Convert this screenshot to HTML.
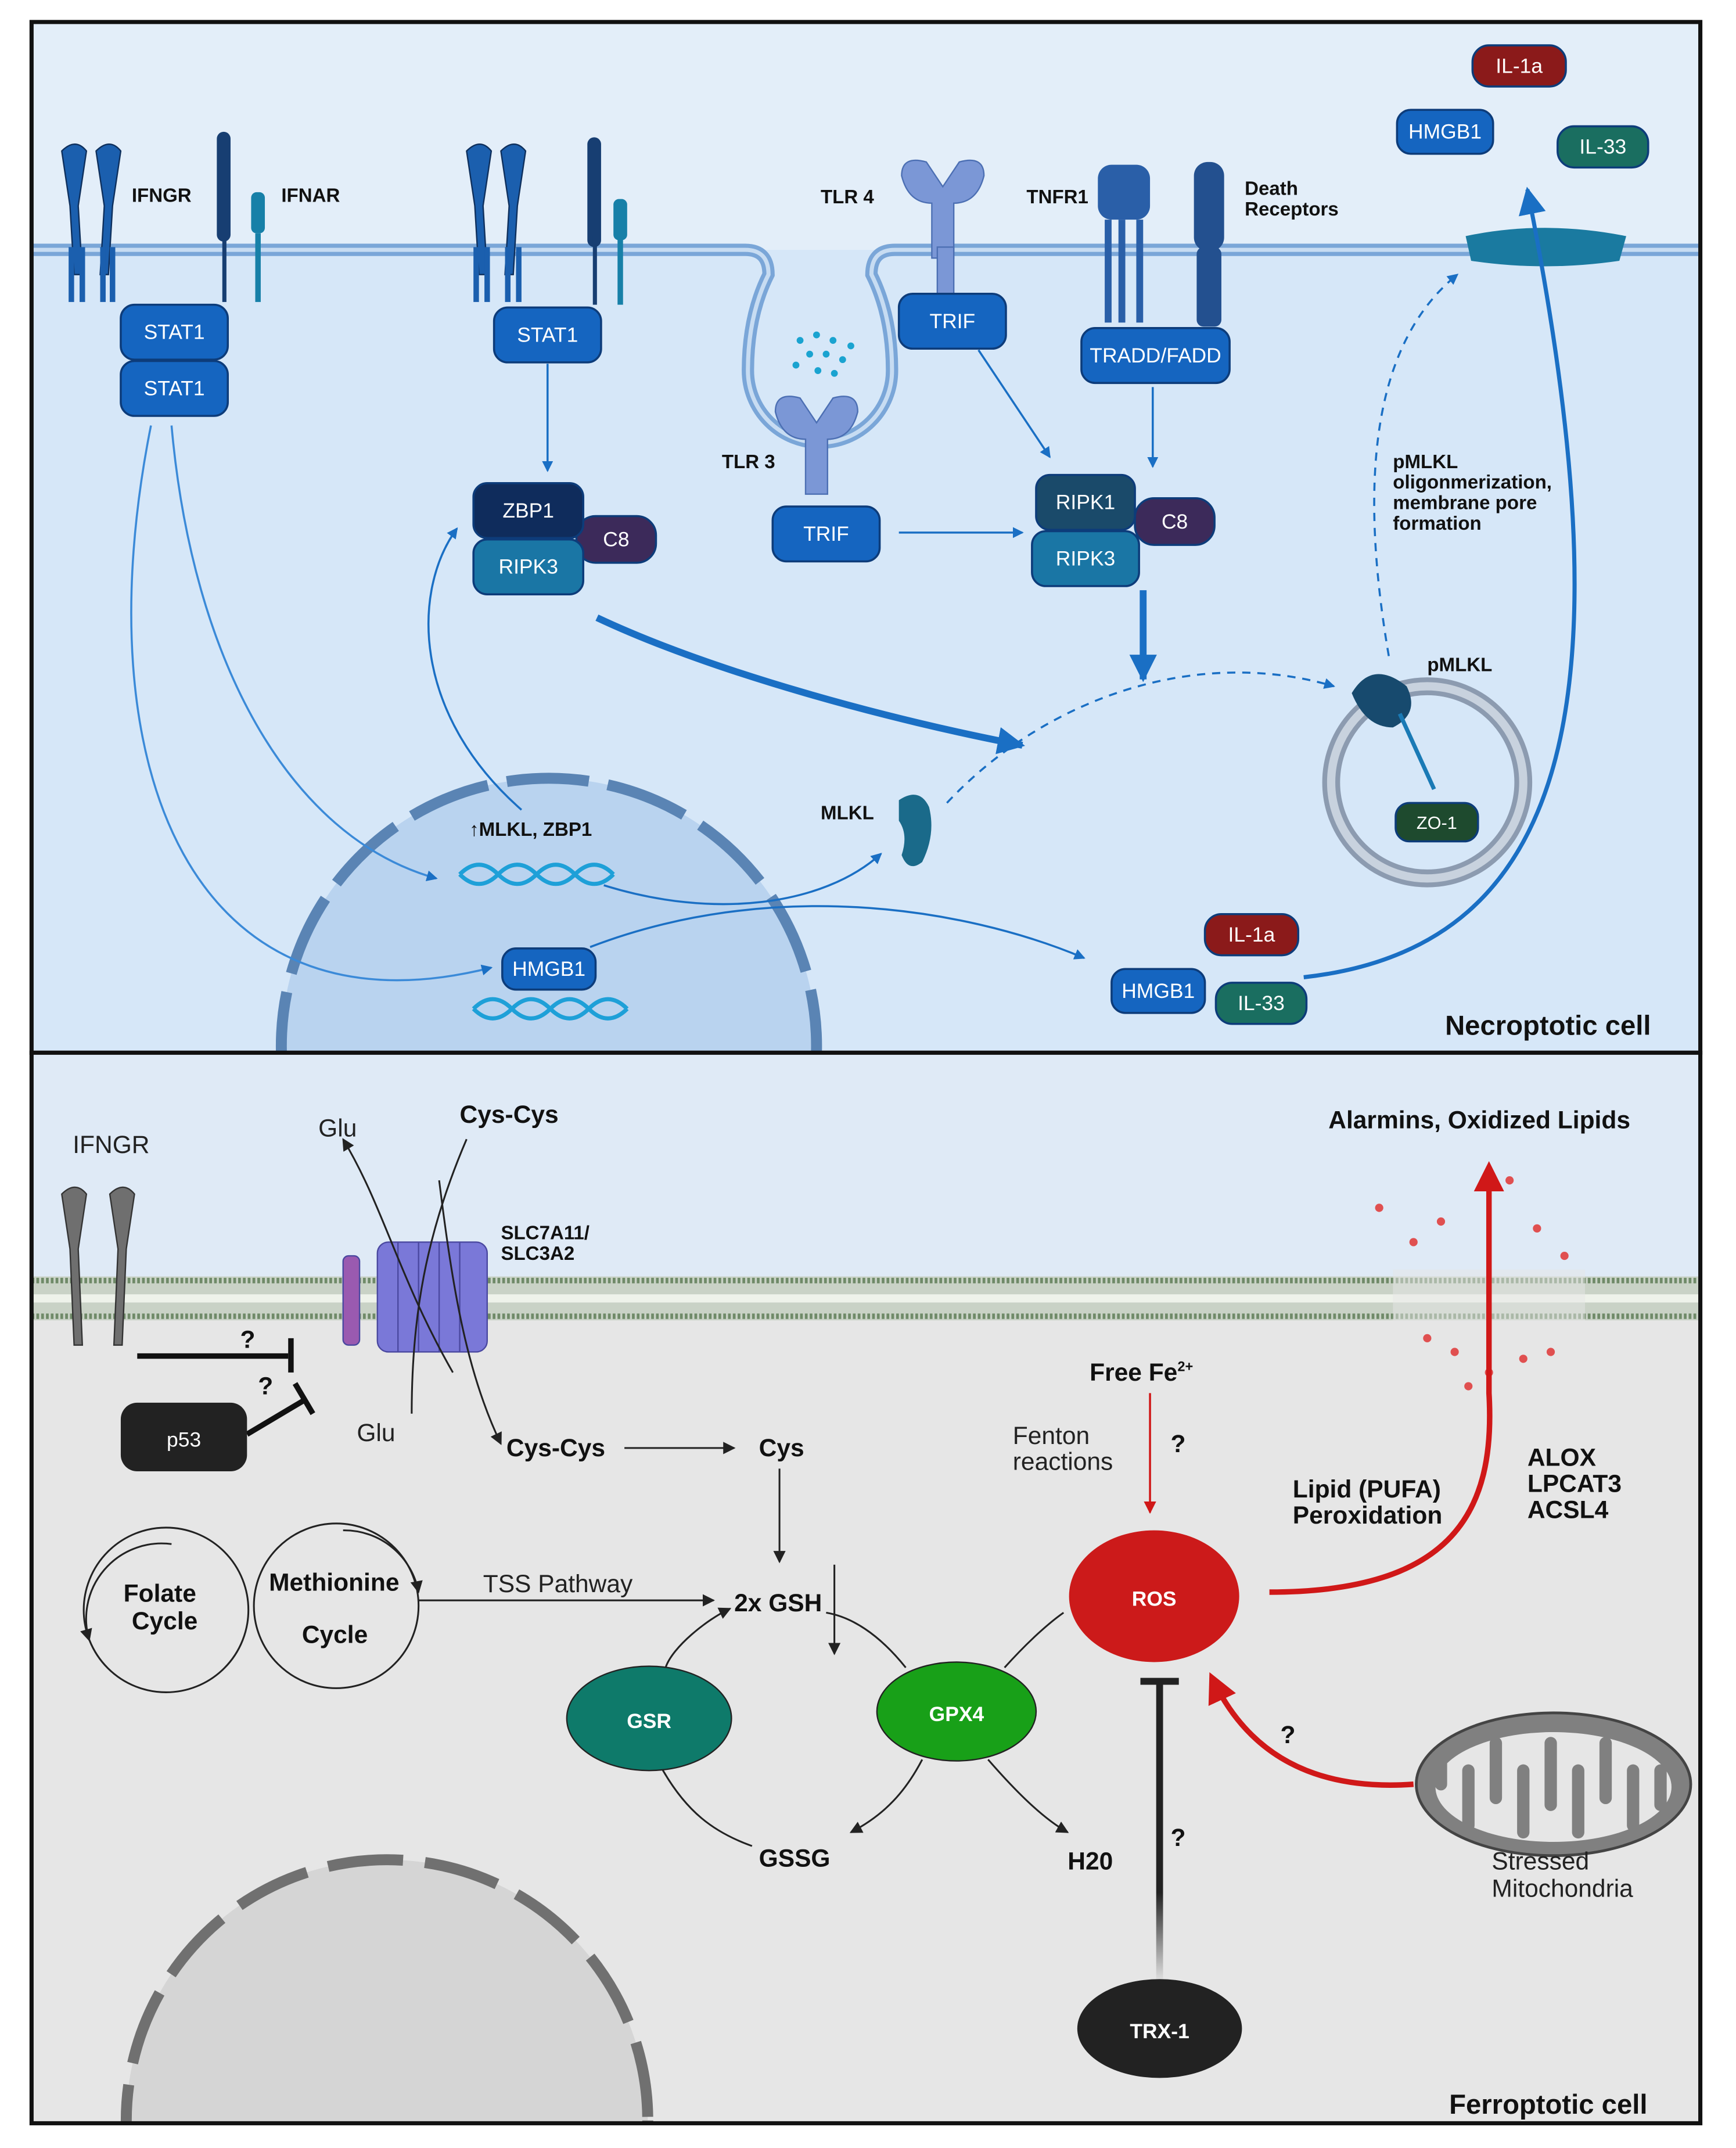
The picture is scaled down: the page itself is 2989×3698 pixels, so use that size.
<!DOCTYPE html>
<html><head><meta charset="utf-8"><style>
html,body{margin:0;padding:0;background:#fff;width:2989px;height:3698px;overflow:hidden}
svg{display:block}
text{font-family:"Liberation Sans",sans-serif}
.w{fill:#fff;font-size:15px;text-anchor:middle}
.b{font-weight:bold;fill:#111}
</style></head><body>
<svg width="2989" height="3698" viewBox="0 0 1265 1565" xmlns="http://www.w3.org/2000/svg">
<defs>
<marker id="ab" markerWidth="8" markerHeight="8" refX="7" refY="4" orient="auto" markerUnits="userSpaceOnUse"><path d="M0,0L8,4L0,8z" fill="#1a6fc4"/></marker>
<marker id="abl" markerWidth="20" markerHeight="20" refX="18" refY="10" orient="auto" markerUnits="userSpaceOnUse"><path d="M0,0L20,10L0,20z" fill="#1a6fc4"/></marker>
<marker id="ak" markerWidth="9" markerHeight="9" refX="8" refY="4.5" orient="auto" markerUnits="userSpaceOnUse"><path d="M0,0L9,4.5L0,9z" fill="#222"/></marker>
<marker id="ar" markerWidth="9" markerHeight="9" refX="8" refY="4.5" orient="auto" markerUnits="userSpaceOnUse"><path d="M0,0L9,4.5L0,9z" fill="#d01818"/></marker>
<marker id="arl" markerWidth="22" markerHeight="22" refX="18" refY="11" orient="auto" markerUnits="userSpaceOnUse"><path d="M0,0L22,11L0,22z" fill="#d01818"/></marker>
<linearGradient id="trx" gradientUnits="userSpaceOnUse" x1="0" y1="1445" x2="0" y2="1225"><stop offset="0" stop-color="#e6e6e6"/><stop offset="0.3" stop-color="#222"/><stop offset="1" stop-color="#222"/></linearGradient>
</defs>
<rect width="1265" height="1565" fill="#fff"/>
<!-- TOP PANEL -->
<rect x="23" y="16" width="1216" height="751" fill="#d6e7f8"/>
<rect x="23" y="16" width="1216" height="166" fill="#e3eef9"/>
<path d="M23,182 H543 Q560,182 560,200 Q545,230 545,270 A52,52 0 0 0 650,270 Q650,230 635,200 Q635,182 652,182 H1239" fill="none" stroke="#7aa6d8" stroke-width="9"/>
<path d="M23,182 H543 Q560,182 560,200 Q545,230 545,270 A52,52 0 0 0 650,270 Q650,230 635,200 Q635,182 652,182 H1239" fill="none" stroke="#c7dcf2" stroke-width="3"/>
<clipPath id="c1"><rect x="23" y="16" width="1216" height="751"/></clipPath>
<g clip-path="url(#c1)">
<circle cx="400" cy="762" r="195" fill="#b9d3ef"/>
<circle cx="400" cy="762" r="195" fill="none" stroke="#5a84b4" stroke-width="8" stroke-dasharray="60,14"/>
</g>
<g fill="#1b5fae" stroke="#0e2f5c" stroke-width="1">
<path d="M45,110 q10,-10 18,0 l-6,40 l3,50 h-6 l-3,-50z"/><path d="M70,110 q10,-10 18,0 l-6,40 l-3,50 h-6 l3,-50z"/>
<path d="M340,110 q10,-10 18,0 l-6,40 l3,50 h-6 l-3,-50z"/><path d="M365,110 q10,-10 18,0 l-6,40 l-3,50 h-6 l3,-50z"/>
</g>
<g fill="#173e72"><rect x="158" y="96" width="10" height="80" rx="5"/><rect x="428" y="100" width="10" height="80" rx="5"/></g>
<rect x="162" y="170" width="3" height="50" fill="#173e72"/><rect x="432" y="172" width="3" height="50" fill="#173e72"/>
<g fill="#1780a8"><rect x="183" y="140" width="10" height="30" rx="4"/><rect x="186" y="170" width="4" height="50"/><rect x="447" y="145" width="10" height="30" rx="4"/><rect x="450" y="172" width="4" height="50"/></g>
<g fill="#1b5fae"><rect x="50" y="180" width="4" height="40"/><rect x="58" y="180" width="4" height="40"/><rect x="73" y="180" width="4" height="40"/><rect x="80" y="180" width="4" height="40"/><rect x="345" y="180" width="4" height="40"/><rect x="353" y="180" width="4" height="40"/><rect x="368" y="180" width="4" height="40"/><rect x="376" y="180" width="4" height="40"/></g>
<g fill="#7b97d6" stroke="#4c6fb3"><path d="M657,128 q0,-15 18,-10 l12,18 l12,-18 q18,-5 18,10 q-5,20 -22,20 l0,40 h-16 l0,-40 q-17,0 -22,-20z"/><rect x="683" y="180" width="12" height="35"/></g>
<g fill="#7b97d6" stroke="#4c6fb3"><path d="M565,300 q0,-15 18,-10 l12,18 l12,-18 q18,-5 18,10 q-5,20 -22,20 l0,40 h-16 l0,-40 q-17,0 -22,-20z"/></g>
<g fill="#1aa3d0"><circle cx="583" cy="248" r="2.5"/><circle cx="595" cy="244" r="2.5"/><circle cx="607" cy="248" r="2.5"/><circle cx="590" cy="258" r="2.5"/><circle cx="602" cy="258" r="2.5"/><circle cx="614" cy="262" r="2.5"/><circle cx="580" cy="266" r="2.5"/><circle cx="596" cy="270" r="2.5"/><circle cx="608" cy="272" r="2.5"/><circle cx="620" cy="252" r="2.5"/></g>
<g fill="#2a5fa8"><rect x="800" y="120" width="38" height="40" rx="10"/><rect x="805" y="160" width="5" height="75"/><rect x="815" y="160" width="5" height="75"/><rect x="828" y="160" width="5" height="75"/><rect x="870" y="118" width="22" height="65" rx="10" fill="#23508f"/><rect x="872" y="180" width="18" height="58" rx="5" fill="#23508f"/></g>
<path d="M1068,172 Q1125,160 1185,172 L1180,190 Q1125,198 1072,190z" fill="#1a7aa0"/>
<g fill="none" stroke="#1a6fc4" stroke-width="1.5">
<path d="M399,265 V343" marker-end="url(#ab)"/>
<path d="M713,255 L765,333" marker-end="url(#ab)"/>
<path d="M840,282 V340" marker-end="url(#ab)"/>
<path d="M655,388 H745" marker-end="url(#ab)"/>
<path d="M125,310 C140,480 210,610 318,640" marker-end="url(#ab)" stroke="#3b8ad8"/>
<path d="M110,310 C60,560 140,760 358,705" marker-end="url(#ab)" stroke="#3b8ad8"/>
<path d="M380,590 C300,520 300,430 333,385" marker-end="url(#ab)"/>
<path d="M440,645 C520,670 600,660 642,622" marker-end="url(#ab)"/>
<path d="M430,690 C560,640 700,660 790,698" marker-end="url(#ab)"/>
<path d="M690,585 C760,510 870,470 972,500" stroke-dasharray="6,5" marker-end="url(#ab)"/>
<path d="M1012,478 C990,350 1000,250 1062,200" stroke-dasharray="6,5" marker-end="url(#ab)"/>
<path d="M950,712 C1150,690 1185,500 1113,138" stroke-width="3" marker-end="url(#abl)"/>
<path d="M435,450 C520,490 650,525 745,543" stroke-width="5" marker-end="url(#abl)"/>
<path d="M833,430 V495" stroke-width="5" marker-end="url(#abl)"/>
</g>
<circle cx="1040" cy="570" r="70" fill="none" stroke="#8c9bb0" stroke-width="13"/>
<circle cx="1040" cy="570" r="70" fill="none" stroke="#c8d2de" stroke-width="6"/>
<path d="M985,505 q15,-25 40,-5 q10,20 -10,30 q-20,0 -30,-25z" fill="#174a6e"/>
<path d="M1020,520 L1045,575" stroke="#1a7ab5" stroke-width="3"/>
<path d="M655,583 q15,-10 22,5 q5,20 -5,40 q-10,8 -15,-5 q5,-15 -2,-25z" fill="#1a6a8a"/>
<g fill="none" stroke="#1ea0d8" stroke-width="3"><path d="M335,637 q14,-14 28,0 t28,0 t28,0 t28,0"/><path d="M335,637 q14,14 28,0 t28,0 t28,0 t28,0"/><path d="M345,735 q14,-14 28,0 t28,0 t28,0 t28,0"/><path d="M345,735 q14,14 28,0 t28,0 t28,0 t28,0"/></g>
<g stroke="#0d3c7a" stroke-width="1.5">
<rect x="88" y="222" width="78" height="40" rx="10" fill="#1565c0"/>
<rect x="88" y="263" width="78" height="40" rx="10" fill="#1565c0"/>
<rect x="360" y="224" width="78" height="40" rx="10" fill="#1565c0"/>
<rect x="655" y="214" width="78" height="40" rx="10" fill="#1565c0"/>
<rect x="563" y="369" width="78" height="40" rx="10" fill="#1565c0"/>
<rect x="788" y="239" width="108" height="40" rx="10" fill="#1565c0"/>
<rect x="420" y="376" width="58" height="34" rx="14" fill="#3c2a5a"/>
<rect x="345" y="352" width="80" height="40" rx="10" fill="#0f2c5c"/>
<rect x="345" y="393" width="80" height="40" rx="10" fill="#1a76a5"/>
<rect x="827" y="363" width="58" height="34" rx="14" fill="#3c2a5a"/>
<rect x="755" y="346" width="72" height="40" rx="10" fill="#1a4a6a"/>
<rect x="752" y="387" width="78" height="40" rx="10" fill="#1a76a5"/>
<rect x="1073" y="33" width="68" height="30" rx="12" fill="#8b1a1a"/>
<rect x="1018" y="80" width="70" height="32" rx="10" fill="#1565c0"/>
<rect x="1135" y="92" width="66" height="30" rx="12" fill="#1a6e60"/>
<rect x="878" y="666" width="68" height="30" rx="12" fill="#8b1a1a"/>
<rect x="810" y="706" width="68" height="32" rx="10" fill="#1565c0"/>
<rect x="886" y="716" width="66" height="30" rx="12" fill="#1a6e60"/>
<rect x="366" y="691" width="68" height="30" rx="10" fill="#1565c0"/>
<rect x="1017" y="585" width="60" height="28" rx="10" fill="#1e4a2e"/>
</g>
<g class="w">
<text x="127" y="247">STAT1</text><text x="127" y="288">STAT1</text><text x="399" y="249">STAT1</text>
<text x="694" y="239">TRIF</text><text x="602" y="394">TRIF</text><text x="842" y="264">TRADD/FADD</text>
<text x="449" y="398">C8</text><text x="385" y="377">ZBP1</text><text x="385" y="418">RIPK3</text>
<text x="856" y="385">C8</text><text x="791" y="371">RIPK1</text><text x="791" y="412">RIPK3</text>
<text x="1107" y="53">IL-1a</text><text x="1053" y="101">HMGB1</text><text x="1168" y="112">IL-33</text>
<text x="912" y="686">IL-1a</text><text x="844" y="727">HMGB1</text><text x="919" y="736">IL-33</text>
<text x="400" y="711">HMGB1</text><text x="1047" y="604" font-size="13">ZO-1</text>
</g>
<g class="b" font-size="14">
<text x="96" y="147">IFNGR</text><text x="205" y="147">IFNAR</text><text x="598" y="148">TLR 4</text>
<text x="748" y="148">TNFR1</text><text x="907" y="142">Death</text><text x="907" y="157">Receptors</text>
<text x="526" y="341">TLR 3</text><text x="342" y="609">↑MLKL, ZBP1</text><text x="598" y="597">MLKL</text>
<text x="1040" y="489">pMLKL</text>
<text x="1015" y="341">pMLKL</text><text x="1015" y="356">oligonmerization,</text><text x="1015" y="371">membrane pore</text><text x="1015" y="386">formation</text>
<text x="1053" y="754" font-size="20">Necroptotic cell</text>
</g>
<rect x="23" y="16" width="1216" height="751" fill="none" stroke="#111" stroke-width="3"/>

<!-- BOTTOM PANEL -->
<rect x="23" y="767" width="1216" height="780" fill="#e6e6e6"/>
<rect x="23" y="767" width="1216" height="163" fill="#dfeaf6"/>
<rect x="23" y="930" width="1216" height="32" fill="#c9d2c6"/>
<g stroke="#6f8a68" stroke-width="1"><line x1="23" y1="933" x2="1239" y2="933" stroke-width="4" stroke-dasharray="2,1.5"/><line x1="23" y1="959" x2="1239" y2="959" stroke-width="4" stroke-dasharray="2,1.5"/><line x1="23" y1="946" x2="1239" y2="946" stroke="#eef2ea" stroke-width="6"/></g>
<clipPath id="c2"><rect x="23" y="767" width="1216" height="780"/></clipPath>
<g clip-path="url(#c2)">
<circle cx="282" cy="1545" r="190" fill="#d5d5d5"/>
<circle cx="282" cy="1545" r="190" fill="none" stroke="#707070" stroke-width="8" stroke-dasharray="55,16"/>
</g>
<rect x="1015" y="925" width="140" height="40" fill="#e6e6e6" opacity="0.5"/>
<g fill="#e05050"><circle cx="1005" cy="880" r="3"/><circle cx="1030" cy="905" r="3"/><circle cx="1050" cy="890" r="3"/><circle cx="1120" cy="895" r="3"/><circle cx="1140" cy="915" r="3"/><circle cx="1100" cy="860" r="3"/><circle cx="1060" cy="985" r="3"/><circle cx="1085" cy="1000" r="3"/><circle cx="1110" cy="990" r="3"/><circle cx="1040" cy="975" r="3"/><circle cx="1130" cy="985" r="3"/><circle cx="1070" cy="1010" r="3"/></g>
<g fill="#6f6f6f" stroke="#333"><path d="M45,870 q10,-10 18,0 l-6,40 l3,70 h-6 l-3,-70z"/><path d="M80,870 q10,-10 18,0 l-6,40 l-3,70 h-6 l3,-70z"/></g>
<g fill="#7a78d8" stroke="#4a48a0"><rect x="275" y="905" width="80" height="80" rx="8"/><rect x="250" y="915" width="12" height="65" rx="4" fill="#9a5ab0"/></g>
<g stroke="#4a48a0"><line x1="290" y1="905" x2="290" y2="985"/><line x1="305" y1="905" x2="305" y2="985"/><line x1="320" y1="905" x2="320" y2="985"/><line x1="335" y1="905" x2="335" y2="985"/></g>
<g stroke="#111" stroke-width="4" fill="none"><path d="M100,988 H210"/><path d="M212,975 V1000"/><path d="M180,1045 L222,1020"/><path d="M215,1008 L228,1030"/></g>
<rect x="88" y="1022" width="92" height="50" rx="12" fill="#222"/>
<text x="134" y="1054" class="w" font-size="19">p53</text>
<g fill="none" stroke="#222" stroke-width="1.3">
<path d="M330,1000 C290,930 280,880 250,830" marker-end="url(#ak)"/>
<path d="M340,830 C310,900 300,960 300,1030"/>
<path d="M320,860 C330,940 340,1000 365,1052" marker-end="url(#ak)"/>
<path d="M455,1055 H535" marker-end="url(#ak)"/>
<path d="M568,1070 V1138" marker-end="url(#ak)"/>
<path d="M608,1140 V1205" marker-end="url(#ak)"/>
<path d="M305,1166 H520" marker-end="url(#ak)"/>
<path d="M482,1288 C500,1320 520,1335 548,1345"/>
<path d="M485,1215 C490,1200 515,1180 532,1172" marker-end="url(#ak)"/>
<path d="M660,1215 C640,1190 620,1178 602,1175"/>
<path d="M732,1215 C750,1195 765,1182 775,1175"/>
<path d="M672,1282 C660,1305 645,1322 620,1335" marker-end="url(#ak)"/>
<path d="M720,1282 C740,1305 760,1325 778,1335" marker-end="url(#ak)"/>
<path d="M125,1125 A55,55 0 0 0 65,1195" marker-end="url(#ak)"/>
<path d="M250,1115 A55,55 0 0 1 305,1160" marker-end="url(#ak)"/>
<circle cx="121" cy="1173" r="60"/><circle cx="245" cy="1170" r="60"/>
</g>
<path d="M838,1015 V1102" stroke="#d01818" stroke-width="1.5" marker-end="url(#ar)"/>
<path d="M925,1160 C1060,1160 1090,1100 1085,1015 L1085,850" fill="none" stroke="#d01818" stroke-width="4" marker-end="url(#arl)"/>
<path d="M1030,1300 C960,1305 910,1280 883,1222" fill="none" stroke="#d01818" stroke-width="4" marker-end="url(#arl)"/>
<rect x="842.5" y="1225" width="5" height="220" fill="url(#trx)"/>
<path d="M831,1225 H859" stroke="#222" stroke-width="5"/>
<ellipse cx="1132" cy="1300" rx="100" ry="52" fill="#808080" stroke="#444" stroke-width="2"/>
<ellipse cx="1132" cy="1302" rx="86" ry="40" fill="#e6e6e6"/>
<path d="M1050,1300 v-20 M1070,1330 v-40 M1090,1270 v40 M1110,1335 v-45 M1130,1270 v45 M1150,1335 v-45 M1170,1270 v40 M1190,1330 v-40 M1210,1290 v25" stroke="#808080" stroke-width="9" stroke-linecap="round"/>
<ellipse cx="473" cy="1252" rx="60" ry="38" fill="#0e7a6a" stroke="#222"/>
<ellipse cx="697" cy="1247" rx="58" ry="36" fill="#18a018" stroke="#222"/>
<ellipse cx="841" cy="1163" rx="62" ry="48" fill="#cc1a1a"/>
<ellipse cx="845" cy="1478" rx="60" ry="36" fill="#222"/>
<g class="w" font-weight="bold" font-size="20"><text x="473" y="1259">GSR</text><text x="697" y="1254">GPX4</text><text x="841" y="1170">ROS</text><text x="845" y="1485">TRX-1</text></g>
<g font-size="18" fill="#222">
<text x="53" y="840">IFNGR</text><text x="232" y="828">Glu</text><text x="260" y="1050">Glu</text>
<text x="352" y="1160">TSS  Pathway</text>
<text x="738" y="1052">Fenton</text><text x="738" y="1071">reactions</text>
<text x="1087" y="1362">Stressed</text><text x="1087" y="1382">Mitochondria</text>
</g>
<g class="b" font-size="18">
<text x="335" y="818">Cys-Cys</text><text x="369" y="1061">Cys-Cys</text><text x="553" y="1061">Cys</text>
<text x="535" y="1174">2x GSH</text><text x="553" y="1360">GSSG</text><text x="778" y="1362">H20</text>
<text x="90" y="1167">Folate</text><text x="96" y="1187">Cycle</text>
<text x="196" y="1159">Methionine</text><text x="220" y="1197">Cycle</text>
<text x="794" y="1006">Free Fe<tspan font-size="10" dy="-7">2+</tspan></text>
<text x="853" y="1058">?</text><text x="175" y="982">?</text><text x="188" y="1016">?</text><text x="933" y="1270">?</text><text x="853" y="1345">?</text>
<text x="942" y="1091">Lipid (PUFA)</text><text x="942" y="1110">Peroxidation</text>
<text x="1113" y="1068">ALOX</text><text x="1113" y="1087">LPCAT3</text><text x="1113" y="1106">ACSL4</text>
<text x="968" y="822">Alarmins, Oxidized Lipids</text>
<text x="1056" y="1540" font-size="20">Ferroptotic cell</text>
</g>
<text x="365" y="903" class="b" font-size="14">SLC7A11/</text><text x="365" y="918" class="b" font-size="14">SLC3A2</text>
<rect x="23" y="767" width="1216" height="780" fill="none" stroke="#111" stroke-width="3"/>
</svg>
</body></html>
